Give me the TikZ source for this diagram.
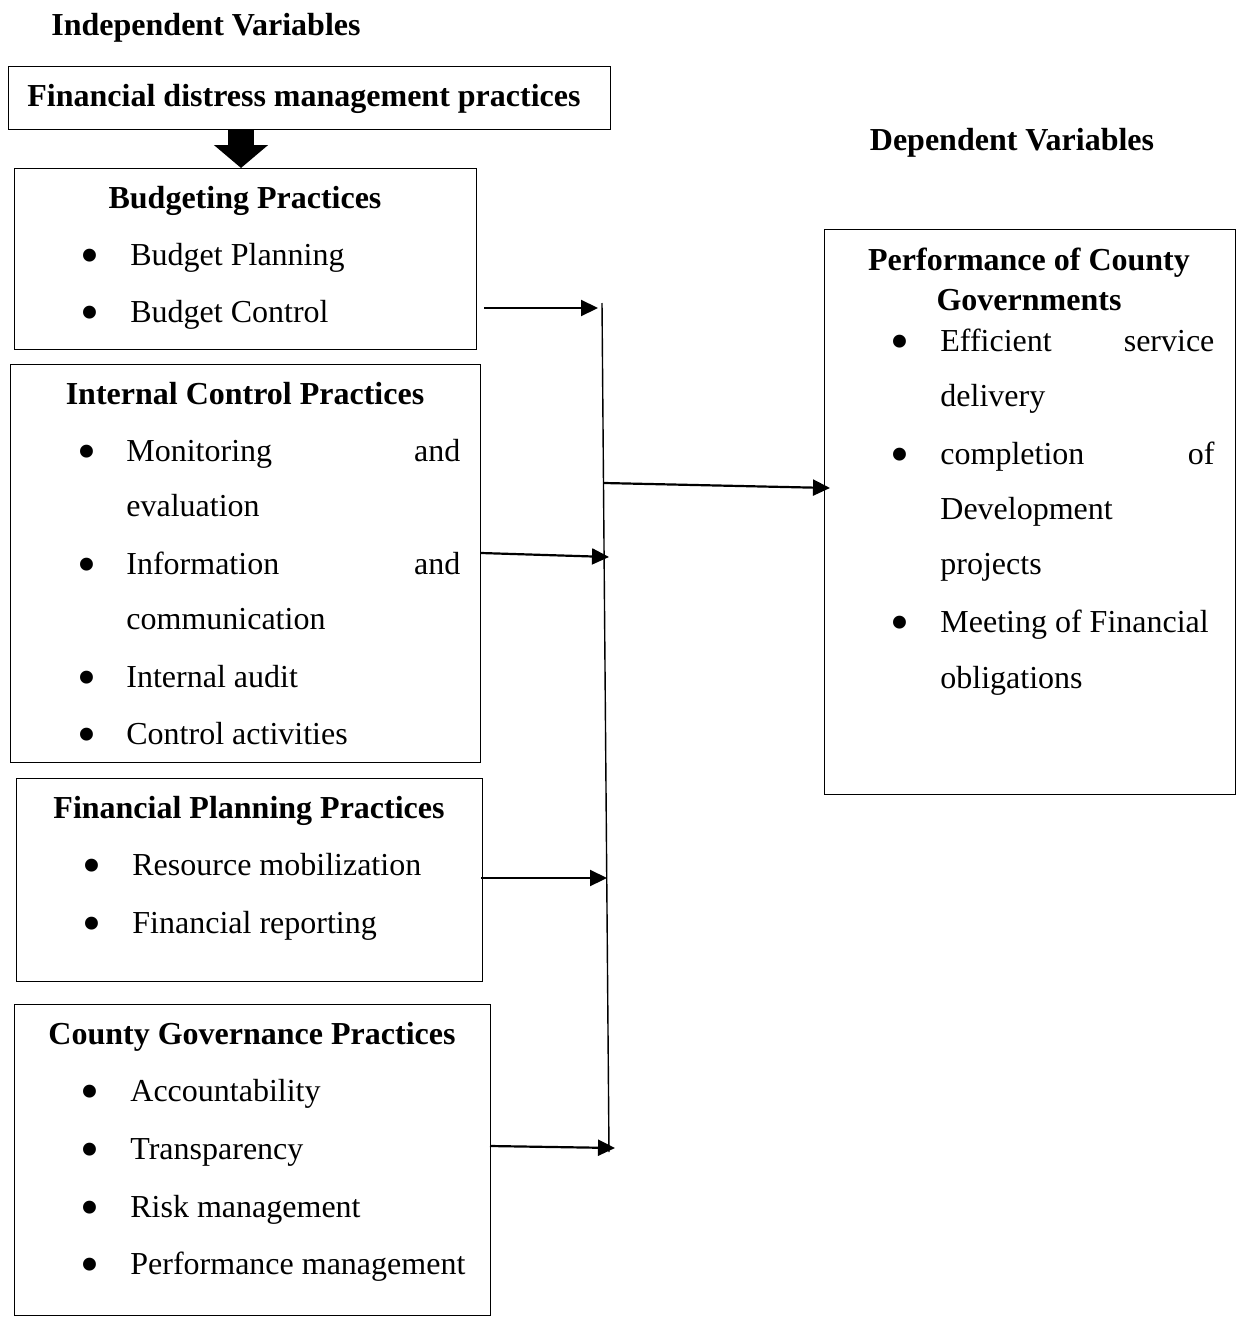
\documentclass[tikz,border=0pt]{standalone}
\usepackage{fontspec}
\setmainfont{Liberation Serif}
\usetikzlibrary{arrows.meta}
\begin{document}
\begin{tikzpicture}[x=0.5pt,y=-0.5pt,
  box/.style={draw, line width=0.7pt, inner sep=0pt, anchor=north west},
  ttl/.style={font=\fontsize{16}{19}\selectfont\bfseries, inner sep=0pt, anchor=base},
  itm/.style={font=\fontsize{16}{19}\selectfont, inner sep=0pt, anchor=base west},
  bul/.style={font=\fontsize{27}{27}\selectfont, inner sep=0pt, anchor=center},
  conn/.style={line width=1.1pt, -{Triangle[length=8.5pt,width=8pt]}},
  vline/.style={line width=0.7pt},
]
\useasboundingbox[fill=white] (0,0) rectangle (1240,1327);

% headings
\node[ttl] (indep) at (206,36) {Independent Variables};
\node[ttl] (dep) at (1012,150) {Dependent Variables};

% boxes
\node[box, minimum width=301pt, minimum height=31.5pt] (fd) at (8,66) {};
\node[ttl] (fdt) at (304,106) {Financial distress management practices};

\node[box, minimum width=231pt, minimum height=90.5pt] (bp) at (14,168) {};
\node[box, minimum width=235pt, minimum height=199pt] (ic) at (10,364) {};
\node[box, minimum width=233pt, minimum height=101.5pt] (fp) at (16,778) {};
\node[box, minimum width=238pt, minimum height=155.5pt] (cg) at (14,1004) {};
\node[box, minimum width=205.5pt, minimum height=282.5pt] (perf) at (824,229) {};

% thick arrow
\draw[line width=13pt, -{Triangle[length=11.5pt,width=26.5pt]}] (fd.south -| 241,0) -- (bp.north -| 241,0);

% Budgeting
\node[ttl] (bpt) at (245,208) {Budgeting Practices};
\node[bul] (bpb1) at (90,261) {\textbullet};
\node[itm] (bpi1) at (130,265) {Budget Planning};
\node[bul] (bpb2) at (90,318) {\textbullet};
\node[itm] (bpi2) at (130,322) {Budget Control};

% Internal control
\node[ttl] (ict) at (245,404) {Internal Control Practices};
\node[bul] (icb1) at (87,457) {\textbullet};
\node[itm] (ici1) at (126,461) {\hbox to 167pt{Monitoring\hfill and}};
\node[itm] (ici1b) at (126,516) {evaluation};
\node[bul] (icb2) at (87,570) {\textbullet};
\node[itm] (ici2) at (126,574) {\hbox to 167pt{Information\hfill and}};
\node[itm] (ici2b) at (126,629) {communication};
\node[bul] (icb3) at (87,683) {\textbullet};
\node[itm] (ici3) at (126,687) {Internal audit};
\node[bul] (icb4) at (87,740) {\textbullet};
\node[itm] (ici4) at (126,744) {Control activities};

% Financial planning
\node[ttl] (fpt) at (249,818) {Financial Planning Practices};
\node[bul] (fpb1) at (92,871) {\textbullet};
\node[itm] (fpi1) at (132,875) {Resource mobilization};
\node[bul] (fpb2) at (92,929) {\textbullet};
\node[itm] (fpi2) at (132,933) {Financial reporting};

% County governance
\node[ttl] (cgt) at (252,1044) {County Governance Practices};
\node[bul] (cgb1) at (90,1097) {\textbullet};
\node[itm] (cgi1) at (130,1101) {Accountability};
\node[bul] (cgb2) at (90,1155) {\textbullet};
\node[itm] (cgi2) at (130,1159) {Transparency};
\node[bul] (cgb3) at (90,1213) {\textbullet};
\node[itm] (cgi3) at (130,1217) {Risk management};
\node[bul] (cgb4) at (90,1270) {\textbullet};
\node[itm] (cgi4) at (130,1274) {Performance management};

% Performance
\node[ttl] (pt1) at (1029,270) {Performance of County};
\node[ttl] (pt2) at (1029,310) {Governments};
\node[bul] (pb1) at (900,347) {\textbullet};
\node[itm] (pi1) at (940,351) {\hbox to 137pt{Efficient\hfill service}};
\node[itm] (pi1b) at (940,406) {delivery};
\node[bul] (pb2) at (900,460) {\textbullet};
\node[itm] (pi2) at (940,464) {\hbox to 137pt{completion\hfill of}};
\node[itm] (pi2b) at (940,519) {Development};
\node[itm] (pi2c) at (940,574) {projects};
\node[bul] (pb3) at (900,628) {\textbullet};
\node[itm] (pi3) at (940,632) {Meeting of Financial};
\node[itm] (pi3b) at (940,688) {obligations};

% connectors
\coordinate (vtop) at (602,303);
\coordinate (vbot) at (609,1152);
\draw[vline] (vtop) -- (vbot);

\coordinate (s1) at (484,308);
\coordinate (e1) at (598,308);
\coordinate (s2) at (481,553);
\coordinate (e2) at (609,557);
\coordinate (s3) at (481,878);
\coordinate (e3) at (607,878);
\coordinate (s4) at (490,1146);
\coordinate (e4) at (615,1148);
\coordinate (s5) at (604,483);
\coordinate (e5) at (830,488);
\draw[conn] (s1) -- (e1);
\draw[conn] (s2) -- (e2);
\draw[conn] (s3) -- (e3);
\draw[conn] (s4) -- (e4);
\draw[conn] (s5) -- (e5);
\end{tikzpicture}
\end{document}
